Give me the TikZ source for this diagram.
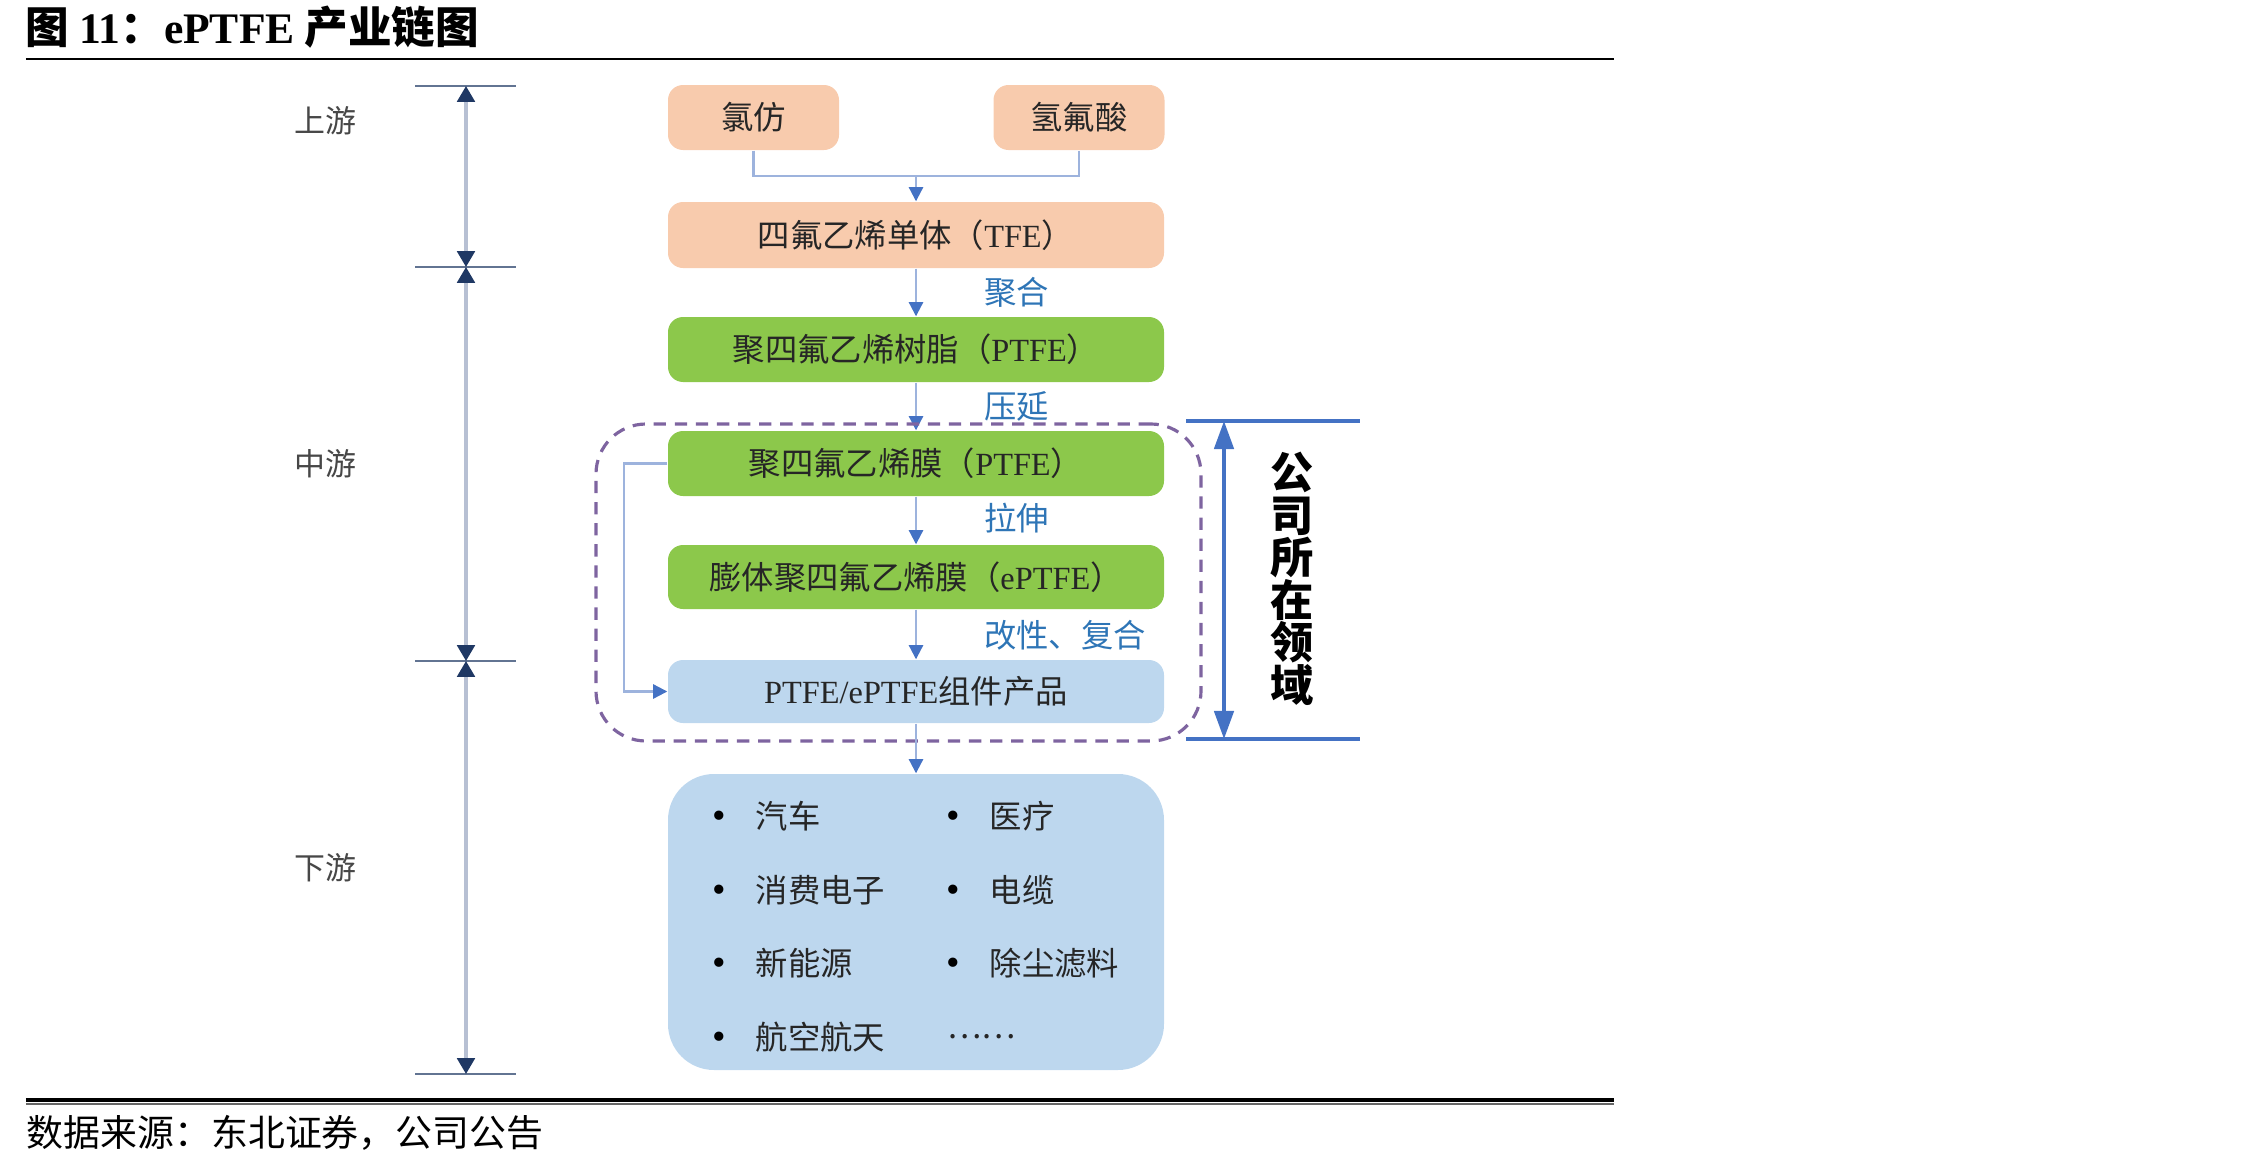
\documentclass[tikz,border=0pt]{standalone}
\usepackage{fontspec}
\setmainfont{Liberation Serif}
\newfontfamily\cjk{Noto Sans CJK SC}
\usepackage{tikz}
\usetikzlibrary{positioning,calc,arrows.meta}

\definecolor{peach}{HTML}{F8CBAD}
\definecolor{leaf}{HTML}{8CC84B}
\definecolor{pale}{HTML}{BDD7EE}
\definecolor{linkblue}{HTML}{4472C4}
\definecolor{thinblue}{HTML}{9DB3DD}
\definecolor{stepblue}{HTML}{2E75B6}
\definecolor{dashpurple}{HTML}{7E64A0}
\definecolor{navy}{HTML}{1F3864}
\definecolor{axisgray}{HTML}{B7C0D3}
\definecolor{ink}{HTML}{262626}

\newcommand{\lt}[1]{{\rmfamily #1}}

\begin{document}
\begin{tikzpicture}[
  box/.style={rounded corners=0.15cm, minimum height=0.65cm, inner sep=0pt, text=ink, font=\cjk\fontsize{9.2}{11}\selectfont},
  rawbox/.style={box, fill=peach, minimum width=1.71cm},
  wide/.style={box, minimum width=4.96cm},
  flow/.style={draw=thinblue, line width=0.6pt, -{Triangle[width=4pt,length=4pt,color=linkblue]}},
  feed/.style={draw=thinblue, line width=0.6pt},
  steplabel/.style={anchor=west, inner sep=0pt, text=stepblue, font=\cjk\fontsize{9.2}{11}\selectfont},
  stage/.style={inner sep=0pt, text=ink!85, font=\cjk\fontsize{8.8}{10}\selectfont},
  rulertick/.style={draw=navy!70, line width=0.35pt},
  rulerspan/.style={draw=axisgray, line width=0.9pt, {Triangle[width=5pt,length=4.5pt,color=navy]}-{Triangle[width=5pt,length=4.5pt,color=navy]}},
  bracket/.style={draw=linkblue, line width=1.4pt},
  enduse/.style={anchor=west, inner sep=0pt, text=ink, font=\cjk\fontsize{9.2}{11}\selectfont},
  bulletmark/.style={inner sep=0pt, text=black, font=\rmfamily\fontsize{11}{12}\selectfont}
]
    \useasboundingbox (0,0) rectangle (22.68,-11.69);

    % Title and rules
    \node[anchor=west, inner sep=0pt, font=\cjk\bfseries\fontsize{12.4}{14}\selectfont] (title) at (0.25,-0.27) {图 \lt{11}：\lt{ePTFE} 产业链图};
    \draw[line width=0.8pt] (0.26,-0.59) -- (16.14,-0.59);
    \draw[line width=0.9pt] (0.26,-11.00) -- (16.14,-11.00);
    \draw[line width=0.3pt, black!60] (0.26,-11.04) -- (16.14,-11.04);
    \node[anchor=west, inner sep=0pt, font=\cjk\fontsize{10.5}{12}\selectfont] (src) at (0.26,-11.33) {数据来源：东北证券，公司公告};

    % Stage ruler
    \foreach \y/\n in {0.86/t0, 2.67/t1, 6.61/t2, 10.74/t3} {
        \draw[rulertick] (4.15,-\y) -- (5.16,-\y);
        \coordinate (\n) at (4.66,-\y);
    }
    \draw[rulerspan] (t0) -- (t1);
    \draw[rulerspan] (t1) -- (t2);
    \draw[rulerspan] (t2) -- (t3);
    \node[stage] (up) at (3.25,-1.21) {上游};
    \node[stage] (mid) at (3.25,-4.64) {中游};
    \node[stage] (dn) at (3.25,-8.68) {下游};

    % Raw materials
    \node[rawbox] (lf) at (7.535,-1.175) {氯仿};
    \node[rawbox] (hf) at (10.79,-1.175) {氢氟酸};
    \coordinate (mrg) at (9.16,-1.76);
    \draw[feed] (lf.south) |- (mrg) -| (hf.south);

    % Main chain
    \node[wide, fill=peach, minimum height=0.66cm] (tfe) at (9.16,-2.35) {四氟乙烯单体（\lt{TFE}）};
    \node[wide, fill=leaf] (resin) at (9.16,-3.495) {聚四氟乙烯树脂（\lt{PTFE}）};
    \node[wide, fill=leaf] (film) at (9.16,-4.635) {聚四氟乙烯膜（\lt{PTFE}）};
    \node[wide, fill=leaf, minimum height=0.64cm] (eptfe) at (9.16,-5.77) {膨体聚四氟乙烯膜（\lt{ePTFE}）};
    \node[wide, fill=pale, minimum height=0.63cm] (part) at (9.16,-6.915) {\lt{PTFE/ePTFE}组件产品};

    \draw[flow] (mrg) -- (tfe.north);
    \draw[flow] (tfe) -- (resin);
    \draw[flow] (resin) -- (film);
    \draw[flow] (film) -- (eptfe);
    \draw[flow] (eptfe) -- (part);
    \draw[flow] (film.west) -- ++(-0.43,0) |- (part.west);

    \node[steplabel] (s1) at (9.835,-2.92) {聚合};
    \node[steplabel] (s2) at (9.835,-4.06) {压延};
    \node[steplabel] (s3) at (9.835,-5.18) {拉伸};
    \node[steplabel] (s4) at (9.835,-6.35) {改性、复合};

    % Company scope
    \node[draw=dashpurple, line width=0.9pt, dash pattern=on 3.5pt off 2.5pt, rounded corners=0.5cm,
          minimum width=6.05cm, minimum height=3.17cm, inner sep=0pt] (zone) at (8.985,-5.825) {};
    \coordinate (btop) at (12.24,-4.21);
    \coordinate (bbot) at (12.24,-7.39);
    \draw[bracket] (11.86,-4.21) -- (13.60,-4.21);
    \draw[bracket] (11.86,-7.39) -- (13.60,-7.39);
    \draw[draw=linkblue, line width=1.1pt, {Triangle[width=5.5pt,length=8pt]}-{Triangle[width=5.5pt,length=8pt]}] (btop) -- (bbot);
    \node[align=center, inner sep=0pt, font=\cjk\bfseries\fontsize{12.3}{12.1}\selectfont] (area) at (12.92,-5.79) {公\\司\\所\\在\\领\\域};

    % Downstream uses
    \node[wide, fill=pale, rounded corners=0.46cm, minimum height=2.96cm] (down) at (9.16,-9.22) {};
    \draw[flow] (part) -- (down);
    \foreach \y/\a/\b [count=\i] in {8.16/汽车/医疗, 8.90/消费电子/电缆, 9.63/新能源/除尘滤料} {
        \node[bulletmark] (ba\i) at (7.19,-\y-0.04) {\textbullet};
        \node[enduse] (ua\i) at (7.55,-\y) {\a};
        \node[bulletmark] (bb\i) at (9.53,-\y-0.04) {\textbullet};
        \node[enduse] (ub\i) at (9.89,-\y) {\b};
    }
    \node[bulletmark] (ba4) at (7.19,-10.41) {\textbullet};
    \node[enduse] (ua4) at (7.55,-10.37) {航空航天};
    \node[enduse] (more) at (9.47,-10.37) {……};
\end{tikzpicture}
\end{document}
